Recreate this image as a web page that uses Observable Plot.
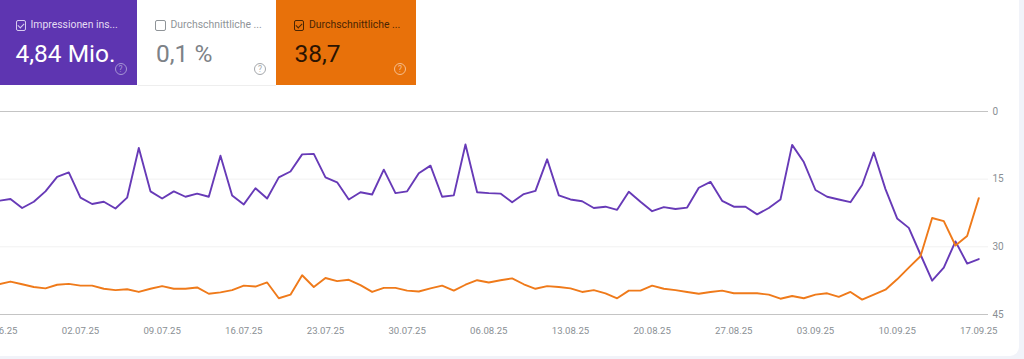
<!DOCTYPE html>
<html>
<head>
<meta charset="utf-8">
<script src="https://cdn.jsdelivr.net/npm/d3@7"></script>
<script src="https://cdn.jsdelivr.net/npm/@observablehq/plot@0.6"></script>
<style>
html,body{margin:0;padding:0;background:#f1f3f9;overflow:hidden;font-family:Roboto,sans-serif}
#page{position:relative;width:1019px;height:356px;background:#fff;border-bottom-right-radius:9px;overflow:hidden}
#cards{position:relative;height:85px}
.card{position:absolute;top:0;height:85px}
.box{position:absolute;top:20px;width:8.5px;height:8.5px;border:1px solid;border-radius:2px}
.box.on::after{content:"";position:absolute;left:2.2px;top:0.6px;width:3px;height:5px;border:solid;border-width:0 1.2px 1.2px 0;border-color:inherit;transform:rotate(45deg)}
.label{position:absolute;top:18px;font-size:10.4px;line-height:14px;white-space:nowrap}
.value{position:absolute;top:38.5px;font-size:24.5px;line-height:29px;white-space:nowrap}
.help{position:absolute;top:63px;width:10px;height:10px;border:1px solid;border-radius:50%;font-size:8.5px;line-height:10px;text-align:center}
svg{display:block}
</style>
</head>
<body>
<div id="page">
<div id="cards"></div>
<div id="chart"></div>
</div>
<script>
const startDate = "2025-06-25";
const endDate = "2025-09-17";
const tickDates = ["2025-06-25","2025-07-02","2025-07-09","2025-07-16","2025-07-23","2025-07-30","2025-08-06","2025-08-13","2025-08-20","2025-08-27","2025-09-03","2025-09-10","2025-09-17"];
const yTicks = [0,15,30,45];
const impressionsRank = [19.8,19.4,21.4,20.0,17.7,14.5,13.5,19.1,20.5,20.0,21.5,19.1,8.1,17.7,19.3,17.7,18.9,18.2,18.9,9.8,18.6,20.6,17.0,19.3,14.6,13.3,9.5,9.4,14.6,15.7,
19.5,17.9,18.4,12.9,18.1,17.7,13.7,12.0,18.9,18.6,7.3,17.9,18.1,18.2,20.1,18.3,17.6,10.6,18.6,19.5,19.9,21.4,21.1,21.8,17.8,20.0,22.1,21.2,21.6,
21.3,16.9,15.6,19.8,21.1,21.1,22.8,21.4,19.5,7.4,11.2,17.4,18.9,19.5,20.1,16.3,9.1,17.2,23.7,25.8,31.7,37.5,34.6,28.8,33.7,32.7];
const positionRank = [38.3,37.7,38.3,38.9,39.2,38.4,38.2,38.6,38.6,39.3,39.6,39.4,40.0,39.3,38.7,39.3,39.3,39.0,40.4,40.1,39.6,38.6,38.8,37.9,41.4,40.6,36.3,38.9,36.9,37.6,
37.3,38.5,40.0,39.1,39.1,39.7,39.9,39.2,38.6,39.7,38.4,37.4,37.9,37.4,37.0,38.3,39.3,38.7,38.9,39.2,40.0,39.6,40.3,41.4,39.7,39.7,38.6,39.3,39.6,
40.0,40.4,40.0,39.7,40.3,40.3,40.3,40.6,41.5,40.9,41.4,40.6,40.3,41.1,40.0,41.7,40.6,39.5,37.2,34.6,32.1,23.6,24.3,29.7,27.6,19.2];
const cards = [
  {label:"Impressionen ins...", value:"4,84 Mio.", x:0, w:136.5, bg:"#5e35b1", lab:"#e4dcf3", val:"#ffffff", box:"#d7cbef", help:"#a795d6", on:true},
  {label:"Durchschnittliche ...", value:"0,1 %", x:137.5, w:138.5, bg:"#ffffff", lab:"#8f9498", val:"#7d8287", box:"#8f9498", help:"#a4a7ab", on:false},
  {label:"Durchschnittliche ...", value:"38,7", x:276, w:140, bg:"#e8710a", lab:"#4a2503", val:"#2b1402", box:"#4a2503", help:"#f6bf8f", on:true}
];

const cardsEl = document.getElementById("cards");
cards.forEach(c => {
  const d = document.createElement("div");
  d.className = "card";
  d.style.cssText = `left:${c.x}px;width:${c.w}px;background:${c.bg};` + (c.on ? "" : "box-shadow:0 1px 0 #eeeeee;");
  d.innerHTML = `<div class="box${c.on ? " on" : ""}" style="left:${c.x ? 17.5 : 15.5}px;border-color:${c.box}"></div>`
    + `<div class="label" style="left:${c.x ? 33 : 30.5}px;color:${c.lab}">${c.label}</div>`
    + `<div class="value" style="left:${c.x ? 18.5 : 15.5}px;color:${c.val}">${c.value}</div>`
    + `<div class="help" style="left:${c.w - 22}px;border-color:${c.help};color:${c.help}">?</div>`;
  cardsEl.appendChild(d);
});

const parse = d3.utcParse("%Y-%m-%d");
const days = d3.utcDay.range(parse(startDate), d3.utcDay.offset(parse(endDate), 1));
const rows = s => days.map((date, i) => ({date, rank: s[i]}));
const fmt = d3.utcFormat("%d.%m.%y");

const plot = Plot.plot({
  width: 1019,
  height: 271,
  marginTop: 26,
  marginBottom: 42,
  marginLeft: 0,
  marginRight: 31,
  style: {background: "transparent", fontFamily: "Roboto, sans-serif", overflow: "hidden"},
  x: {type: "utc", domain: [parse(startDate), parse(endDate)], range: [-1.7, 978.3]},
  y: {domain: [0, 45], reverse: true},
  marks: [
    Plot.ruleY([15, 30], {stroke: "#f1f1f1", strokeWidth: 1}),
    Plot.ruleY([0, 45], {stroke: "#c4c4c4", strokeWidth: 1}),
    Plot.line(rows(impressionsRank), {x: "date", y: "rank", stroke: "#673ab7", strokeWidth: 1.9, curve: "linear"}),
    Plot.line(rows(positionRank), {x: "date", y: "rank", stroke: "#ef7a1a", strokeWidth: 1.9, curve: "linear"}),
    Plot.axisX({ticks: tickDates.map(parse), tickFormat: fmt, tickSize: 0, tickPadding: 13, fontSize: 9.6, color: "#8a8f94", label: null}),
    Plot.axisY({ticks: yTicks, anchor: "right", tickSize: 0, tickPadding: 4, fontSize: 10, color: "#8a8f94", label: null})
  ]
});
document.getElementById("chart").appendChild(plot);
</script>
</body>
</html>
